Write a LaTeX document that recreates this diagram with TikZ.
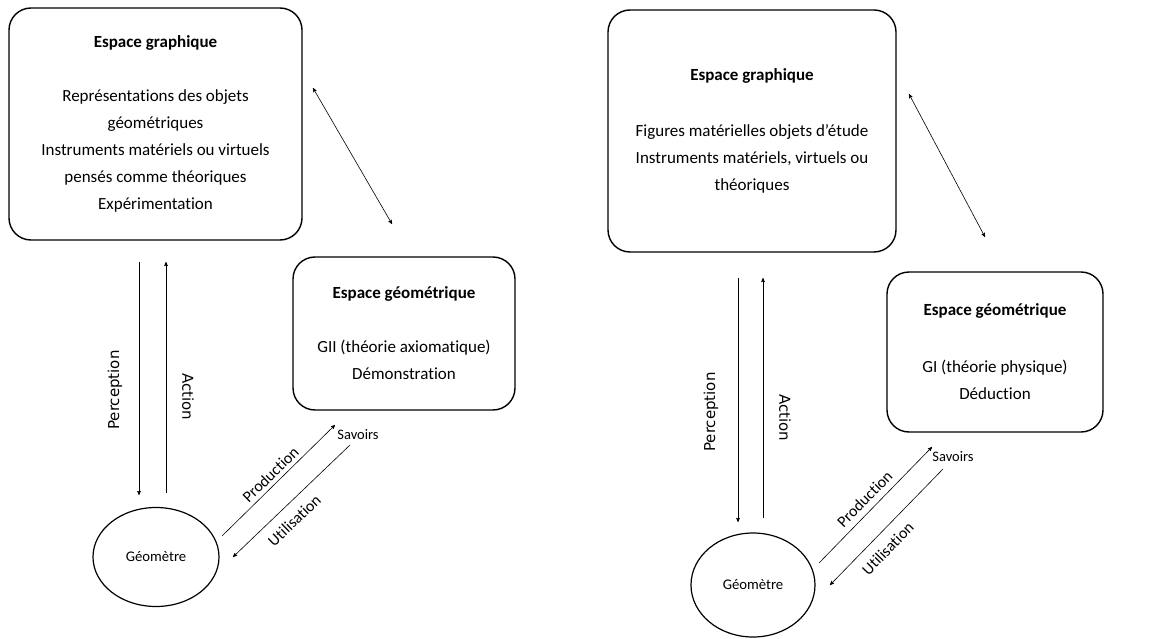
\documentclass[tikz,border=0pt]{standalone}
\usepackage{fontspec}
\setmainfont[Ligatures=NoCommon]{Carlito}
\newfontfamily\arrowfont{DejaVu Sans}
\usetikzlibrary{arrows,positioning,shapes.geometric}

\begin{document}
\begin{tikzpicture}[x=1pt,y=-1pt,>=stealth',semithick]
 \tikzstyle{space node}=[rectangle,rounded corners=22pt,draw,line width=1.4pt,align=center,font=\fontsize{17}{27}\selectfont]
 \tikzstyle{geometre node}=[ellipse,draw,line width=1.2pt,inner sep=0pt,font=\fontsize{14.7}{17}\selectfont]
 \tikzstyle{savoir node}=[inner sep=1pt,font=\fontsize{14.5}{17}\selectfont]
 \tikzstyle{vert label}=[inner sep=1pt,font=\arrowfont\fontsize{15}{18}\selectfont]
 \tikzstyle{slope label}=[sloped,inner sep=2pt,font=\fontsize{16}{18}\selectfont]

 \useasboundingbox (0,0) rectangle (1153,639);

 % left diagram
 \node[space node,minimum width=293pt,minimum height=232pt] (G1) at (155.5,124)
   {\textbf{Espace graphique}\\[27pt]Représentations des objets\\géométriques\\Instruments matériels ou virtuels\\pensés comme théoriques\\Expérimentation};
 \node[space node,minimum width=222pt,minimum height=153pt] (E1) at (404,333.5)
   {\textbf{Espace géométrique}\\[27pt]GII (théorie axiomatique)\\Démonstration};
 \node[geometre node,minimum width=126pt,minimum height=99pt] (M1) at (156,557) {Géomètre};
 \node[savoir node] (S1) at (358,435) {Savoirs};

 \coordinate (d1a) at (313,88);
 \coordinate (d1b) at (392,224);
 \coordinate (p1a) at (139,262);
 \coordinate (p1b) at (139,495);
 \coordinate (a1a) at (166,493);
 \coordinate (a1b) at (166,262);
 \coordinate (r1a) at (222,536);
 \coordinate (r1b) at (335,425);
 \coordinate (u1a) at (350,445);
 \coordinate (u1b) at (233,557);

 \node[vert label,rotate=90] (pl1) at (115,390) {Perception};
 \node[vert label,rotate=-90] (al1) at (188,397) {Action};

 \path[<->] (d1a) edge (d1b);
 \path[->] (p1a) edge (p1b);
 \path[->] (a1a) edge (a1b);
 \path[->] (r1a) edge node[slope label,pos=0.49,above=2pt] {Production} (r1b);
 \path[->] (u1a) edge node[slope label,pos=0.57,below=8pt] {Utilisation} (u1b);

 % right diagram
 \node[space node,minimum width=288pt,minimum height=242pt] (G2) at (752,131)
   {\textbf{Espace graphique}\\[29pt]Figures matérielles objets d’étude\\Instruments matériels, virtuels ou\\théoriques};
 \node[space node,minimum width=216pt,minimum height=160pt] (E2) at (995,352)
   {\textbf{Espace géométrique}\\[30pt]GI (théorie physique)\\Déduction};
 \node[geometre node,minimum width=124pt,minimum height=104pt] (M2) at (753,585) {Géomètre};
 \node[savoir node] (S2) at (953,457) {Savoirs};

 \coordinate (d2a) at (909,94);
 \coordinate (d2b) at (985,237);
 \coordinate (p2a) at (738,278);
 \coordinate (p2b) at (738,522);
 \coordinate (a2a) at (763,518);
 \coordinate (a2b) at (763,278);
 \coordinate (r2a) at (819,563);
 \coordinate (r2b) at (932,447);
 \coordinate (u2a) at (943,469);
 \coordinate (u2b) at (830,585);

 \node[vert label,rotate=90] (pl2) at (711,412) {Perception};
 \node[vert label,rotate=-90] (al2) at (785,418) {Action};

 \path[<->] (d2a) edge (d2b);
 \path[->] (p2a) edge (p2b);
 \path[->] (a2a) edge (a2b);
 \path[->] (r2a) edge node[slope label,pos=0.48,above=4pt] {Production} (r2b);
 \path[->] (u2a) edge node[slope label,pos=0.59,below=8pt] {Utilisation} (u2b);
\end{tikzpicture}
\end{document}
